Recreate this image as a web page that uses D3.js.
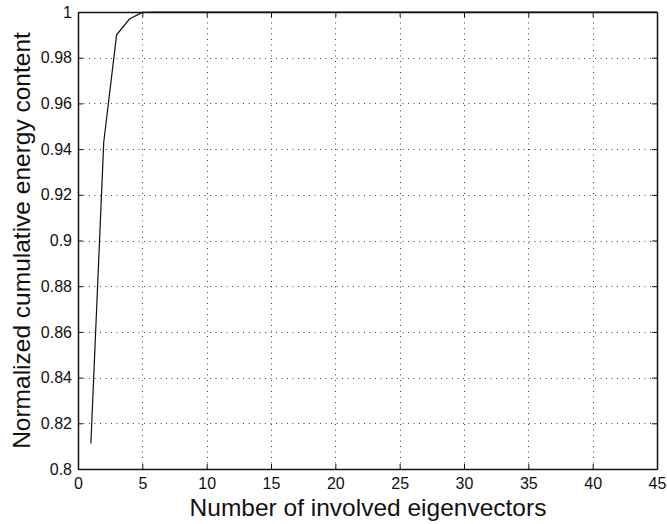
<!DOCTYPE html>
<html>
<head>
<meta charset="utf-8">
<script src="https://cdn.jsdelivr.net/npm/d3@7"></script>
<style>
  body { margin: 0; background: #fff; }
  svg { display: block; font-family: "Liberation Sans", Arial, sans-serif; }
</style>
</head>
<body>
<svg id="chart"></svg>
<script>
//data
const eigenCount = [1, 2, 3, 4, 5, 6, 7, 8, 9, 10, 15, 20, 25, 30, 35, 40, 45];
const energy = [0.8112, 0.943, 0.990, 0.9969, 0.9998, 1, 1, 1, 1, 1, 1, 1, 1, 1, 1, 1, 1];
const xTicks = [0, 5, 10, 15, 20, 25, 30, 35, 40, 45];
const yTicks = [0.8, 0.82, 0.84, 0.86, 0.88, 0.9, 0.92, 0.94, 0.96, 0.98, 1];

const width = 667, height = 524;
const margin = {top: 12, right: 10, bottom: 55, left: 78};

const svg = d3.select("#chart")
    .attr("width", width)
    .attr("height", height);

const x = d3.scaleLinear().domain([0, 45]).range([margin.left, width - margin.right]);
const y = d3.scaleLinear().domain([0.8, 1]).range([height - margin.bottom, margin.top]);

//dotted grid
const grid = svg.append("g").attr("stroke", "#444").attr("stroke-width", 1)
    .attr("stroke-dasharray", "1,4.5");
grid.selectAll(".gx")
    .data(xTicks.slice(1, -1))
    .join("line")
    .attr("x1", d => Math.round(x(d)) + 0.5).attr("x2", d => Math.round(x(d)) + 0.5)
    .attr("y1", y(0.8)).attr("y2", y(1));
grid.selectAll(".gy")
    .data(yTicks.slice(1, -1))
    .join("line")
    .attr("y1", d => Math.round(y(d)) + 0.5).attr("y2", d => Math.round(y(d)) + 0.5)
    .attr("x1", x(0)).attr("x2", x(45));

//axes with inward ticks, matlab-ish
const fmt = d => d3.format("")(+d.toFixed(2));
const axBottom = d3.axisBottom(x).tickValues(xTicks).tickSizeInner(-5).tickSizeOuter(0).tickPadding(9);
const axTop = d3.axisTop(x).tickValues(xTicks).tickSizeInner(-5).tickSizeOuter(0).tickFormat("");
const axLeft = d3.axisLeft(y).tickValues(yTicks).tickSizeInner(-5).tickSizeOuter(0).tickPadding(6).tickFormat(fmt);
const axRight = d3.axisRight(y).tickValues(yTicks).tickSizeInner(-5).tickSizeOuter(0).tickFormat("");

function styleAxis(g) {
    g.selectAll("path").attr("stroke", "#111").attr("stroke-width", 1.5);
    g.selectAll("line").attr("stroke", "#111");
    g.selectAll("text").attr("fill", "#111").style("font-size", "16px");
}

svg.append("g").attr("transform", `translate(0,${y(0.8)})`).call(axBottom).call(styleAxis);
svg.append("g").attr("transform", `translate(0,${y(1)})`).call(axTop).call(styleAxis);
svg.append("g").attr("transform", `translate(${x(0)},0)`).call(axLeft).call(styleAxis);
svg.append("g").attr("transform", `translate(${x(45)},0)`).call(axRight).call(styleAxis);

//the curve
const line = d3.line().x((d, i) => x(eigenCount[i])).y(d => y(d));
svg.append("path")
    .datum(energy)
    .attr("fill", "none")
    .attr("stroke", "#111")
    .attr("stroke-width", 1.2)
    .attr("d", line);

//axis titles
svg.append("text")
    .attr("x", 368)
    .attr("y", 516)
    .attr("text-anchor", "middle")
    .style("font-size", "24.5px")
    .attr("fill", "#111")
    .text("Number of involved eigenvectors");

svg.append("text")
    .attr("transform", `translate(30,${(y(0.8) + y(1)) / 2}) rotate(-90)`)
    .attr("text-anchor", "middle")
    .style("font-size", "24.5px")
    .attr("fill", "#111")
    .text("Normalized cumulative energy content");
</script>
</body>
</html>
